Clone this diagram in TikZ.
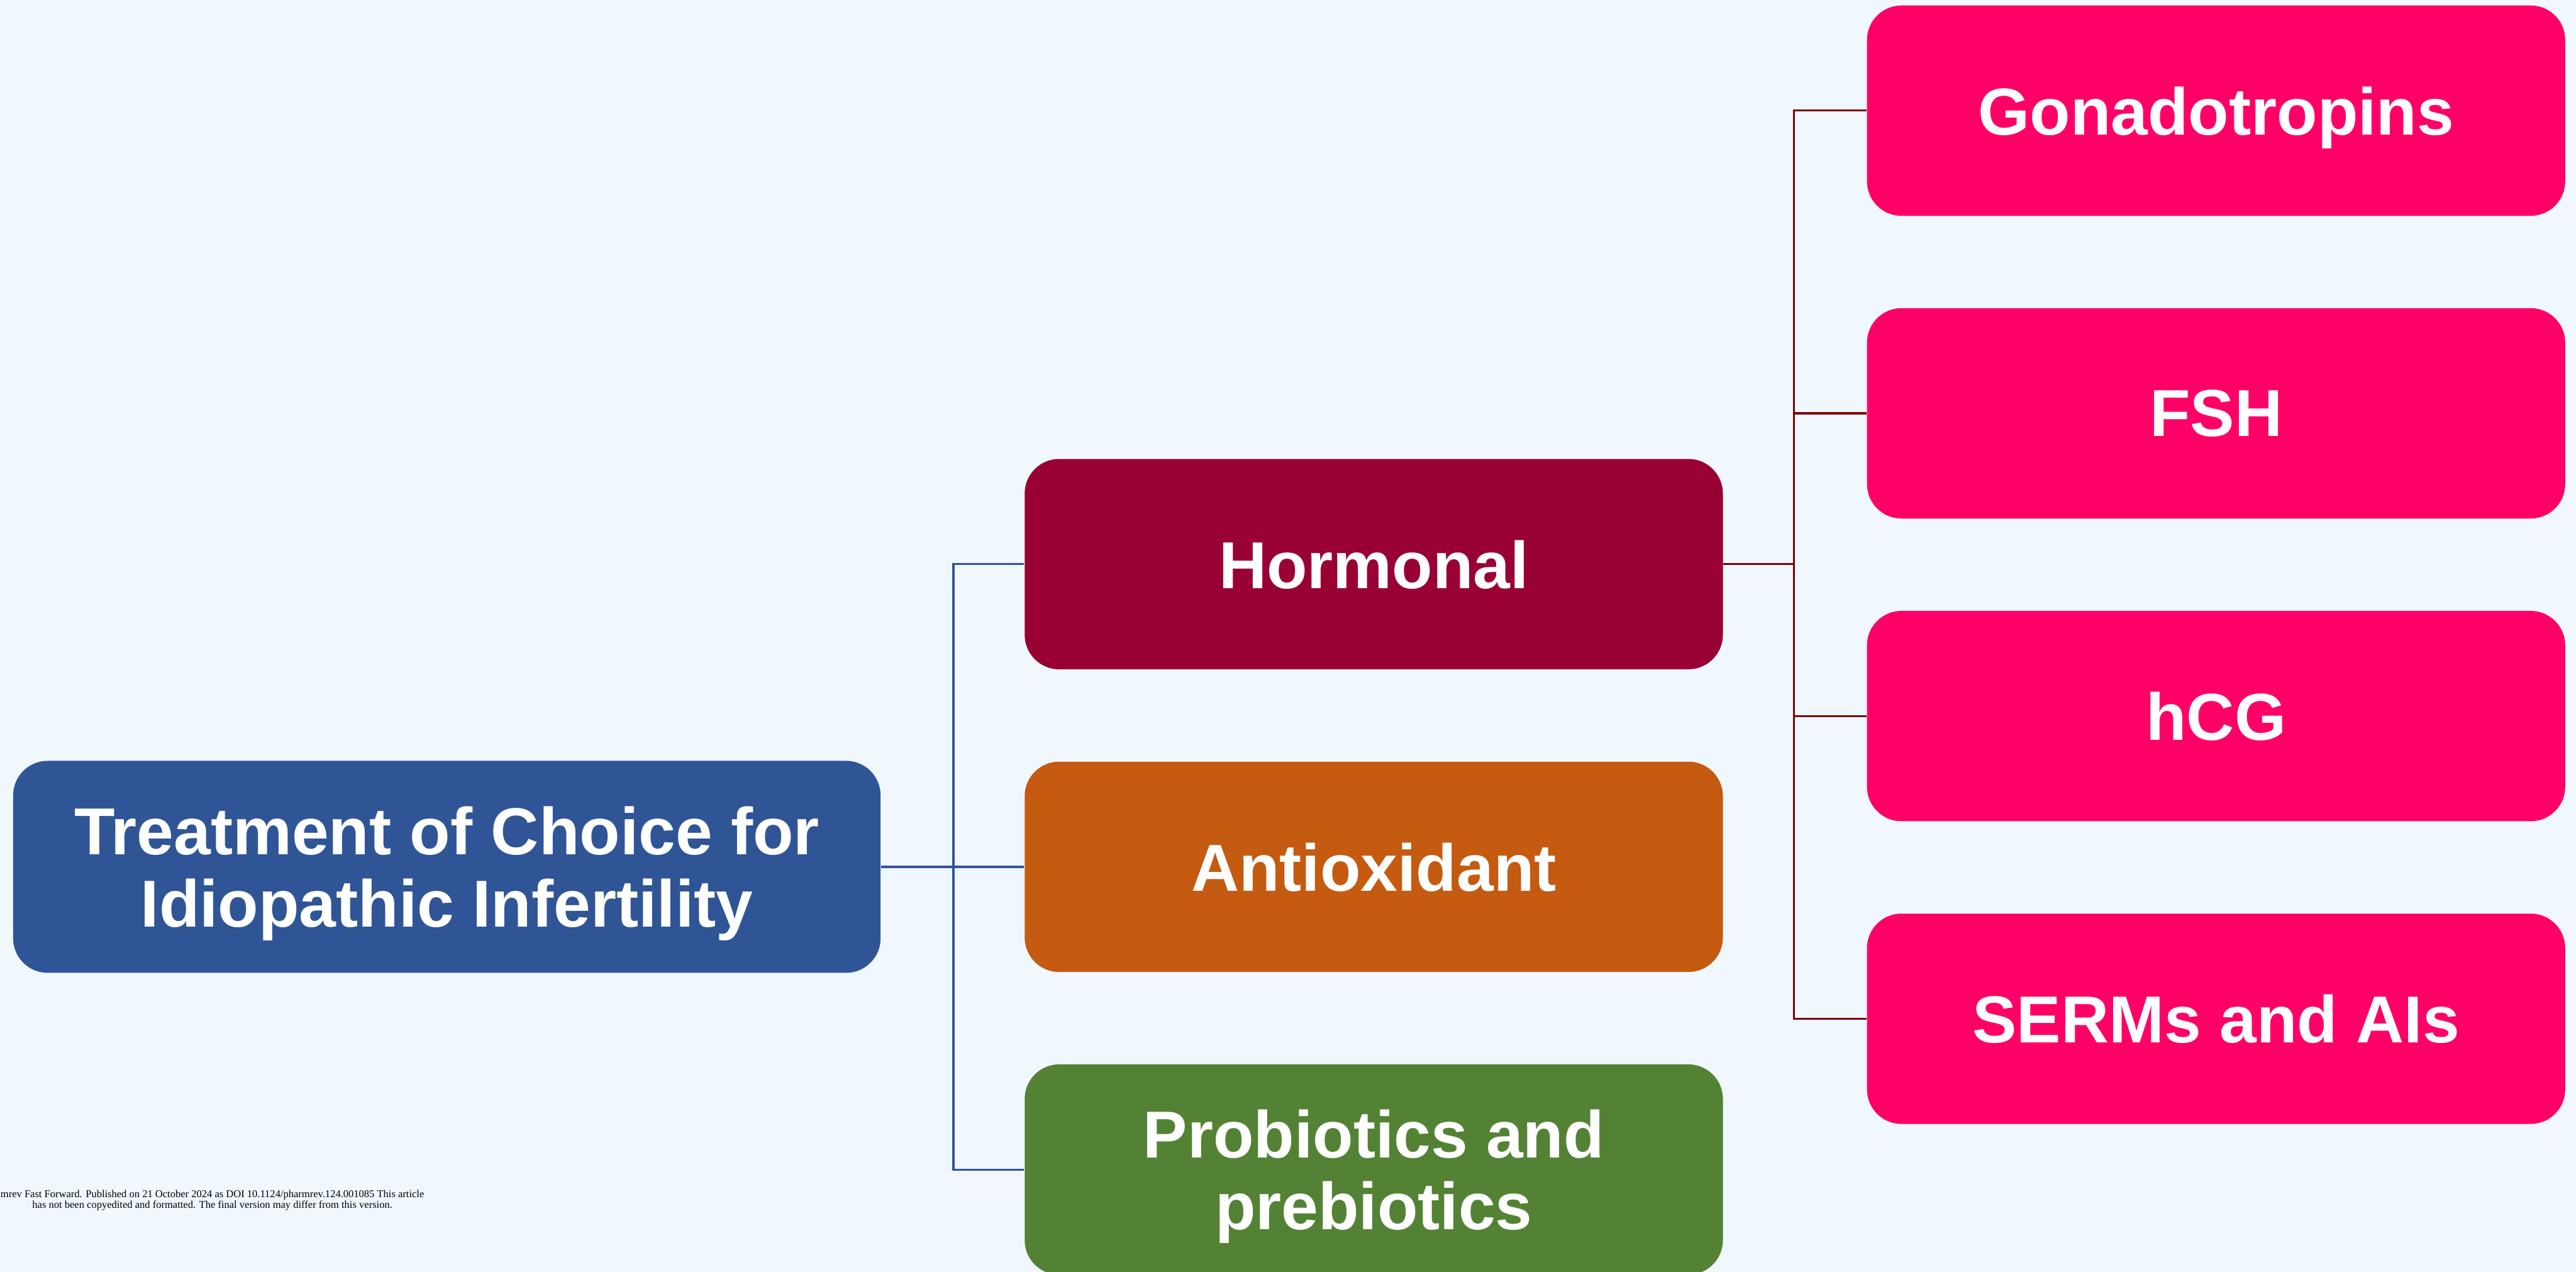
\documentclass[tikz,border=0pt]{standalone}
\usepackage{fontspec}
\setmainfont{Liberation Sans}
\newfontfamily\notefont{Liberation Serif}
\usetikzlibrary{positioning}

\definecolor{paperbg}{RGB}{240,247,253}
\definecolor{rootblue}{RGB}{47,85,151}
\definecolor{hormred}{RGB}{153,0,51}
\definecolor{oxorange}{RGB}{197,90,17}
\definecolor{probgreen}{RGB}{84,130,53}
\definecolor{leafpink}{RGB}{255,0,102}
\definecolor{linkred}{RGB}{128,0,0}

\begin{document}
\begin{tikzpicture}[
  box/.style={rounded corners=0.42cm, text=white, align=center, inner sep=0pt, text depth=0pt, font=\fontsize{23}{25}\selectfont\bfseries},
  topic/.style={box, fill=rootblue, minimum width=10.56cm, minimum height=2.58cm},
  branch/.style={box, minimum width=8.5cm, minimum height=2.56cm},
  leaf/.style={box, fill=leafpink, minimum width=8.5cm, minimum height=2.56cm},
  bln/.style={draw=rootblue, line width=0.7pt},
  rln/.style={draw=linkred, line width=0.7pt},
  note/.style={font=\notefont\fontsize{3.6}{3.8}\selectfont, align=center, inner sep=0pt}
]
\fill[paperbg] (0,0) rectangle (31.36,15.48);
\useasboundingbox (0,0) rectangle (31.36,15.48);
% Root: the question
\node[topic] (root) at (5.44,4.93) {Treatment of Choice for\\Idiopathic Infertility};
% Level 1: treatment families
\node[branch, fill=oxorange, right=1.74cm of root] (anti) {Antioxidant};
\node[branch, fill=hormred, above=1.11cm of anti] (horm) {Hormonal};
\node[branch, fill=probgreen, below=1.11cm of anti] (probio) {Probiotics and\\prebiotics};
% Level 2: hormonal options
\node[leaf, right=1.74cm of horm, yshift=1.835cm] (fsh) {FSH};
\node[leaf, above=1.11cm of fsh] (gon) {Gonadotropins};
\node[leaf, below=1.11cm of fsh] (hcg) {hCG};
\node[leaf, below=1.11cm of hcg] (serm) {SERMs and AIs};
% connectors
\draw[bln] (root.east) -- ++(0.88,0) coordinate (btrunk);
\draw[bln] (anti.west) -- (btrunk);
\draw[bln] (horm.west) -| (btrunk);
\draw[bln] (probio.west) -| (btrunk);
\draw[rln] (horm.east) -- ++(0.86,0) coordinate (rtrunk);
\draw[rln] (gon.west) -| (rtrunk);
\draw[rln] (fsh.west) -| (rtrunk);
\draw[rln] (hcg.west) -| (rtrunk);
\draw[rln] (serm.west) -| (rtrunk);
% footnote
\node[note, anchor=west] (foot) at (0,0.87) {mrev Fast Forward. Published on 21 October 2024 as DOI 10.1124/pharmrev.124.001085 This article\\has not been copyedited and formatted. The final version may differ from this version.};
\end{tikzpicture}
\end{document}
